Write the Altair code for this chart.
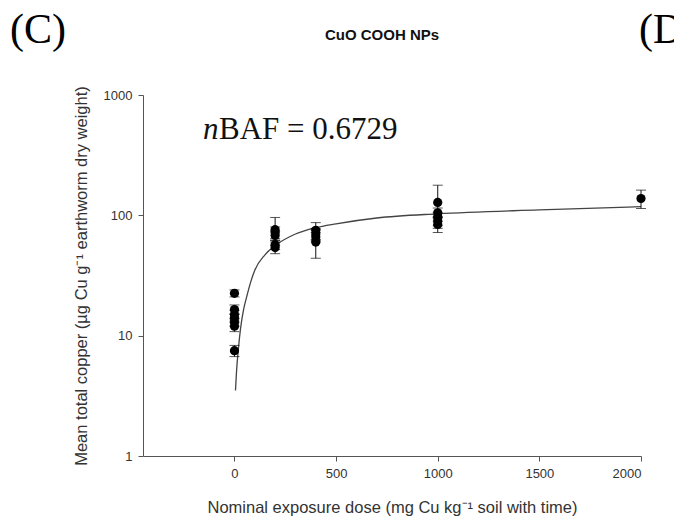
import altair as alt
import pandas as pd

# ---- data ----
doses = [0]*7 + [200]*5 + [400]*4 + [1000]*5 + [2000]
values = [22.5, 16.5, 15, 14, 13, 12, 7.5,
          76, 72, 68, 57, 54,
          75, 70, 66, 60,
          128, 105, 97, 90, 84,
          138]
errors = [1.5, 1.5, 1.2, 1.2, 1.0, 1.2, 0.8,
          20, 8, 6, 5, 6,
          12, 8, 6, 16,
          50, 10, 8, 8, 12,
          24]

curve_dose = [5, 10, 20, 30, 45, 60, 80, 100, 150, 200, 300, 400, 500, 700, 1000, 1500, 2000]
curve_val = [3.5, 5, 8, 11.5, 16.5, 21, 28, 35, 47, 56, 70, 79, 85, 95, 103, 111, 118]

x_ticks = [0, 500, 1000, 1500, 2000]
y_ticks = [1, 10, 100, 1000]

pts = pd.DataFrame({"dose": doses, "value": values,
                    "lo": [v - e for v, e in zip(values, errors)],
                    "hi": [v + e for v, e in zip(values, errors)]})
curve = pd.DataFrame({"dose": curve_dose, "value": curve_val})

FONT = "Liberation Sans"
SERIF = "Liberation Serif"

xscale = alt.Scale(domain=[-450, 2000], nice=False, zero=False)
yscale = alt.Scale(type="log", domain=[1, 1000], nice=False)

xenc = alt.X("dose:Q", scale=xscale,
             axis=alt.Axis(values=x_ticks, format="d", grid=False,
                           title="Nominal exposure dose (mg Cu kg⁻¹ soil with time)",
                           titlePadding=19, labelPadding=6))
yenc = alt.Y("value:Q", scale=yscale,
             axis=alt.Axis(values=y_ticks, format="d", grid=False,
                           title="Mean total copper (µg Cu g⁻¹ earthworm dry weight)",
                           titlePadding=14, labelPadding=6))

line = alt.Chart(curve).mark_line(color="#444", strokeWidth=1.3, interpolate="monotone").encode(
    x=xenc, y=yenc)

bars = alt.Chart(pts).mark_rule(color="#111", strokeWidth=1).encode(
    x="dose:Q", y="lo:Q", y2="hi:Q")
cap_hi = alt.Chart(pts).mark_tick(color="#111", orient="horizontal", size=10, thickness=1).encode(
    x="dose:Q", y="hi:Q")
cap_lo = alt.Chart(pts).mark_tick(color="#111", orient="horizontal", size=10, thickness=1).encode(
    x="dose:Q", y="lo:Q")
dots = alt.Chart(pts).mark_circle(color="#000", size=85, opacity=1).encode(
    x="dose:Q", y="value:Q")

lab = pd.DataFrame({"t": [0]})
def txt(text, x, y, **kw):
    return alt.Chart(lab).mark_text(text=text, **kw).encode(x=alt.value(x), y=alt.value(y))

panel_c = txt("(C)", -133, -52, font=SERIF, fontSize=42, align="left", baseline="alphabetic", color="#000")
panel_d = txt("(D)", 496, -52, font=SERIF, fontSize=42, align="left", baseline="alphabetic", color="#000")
title = txt("CuO COOH NPs", 239, -55, font=FONT, fontSize=15, fontWeight="bold", align="center",
            baseline="alphabetic", color="#111")
n_it = txt("n", 60, 44, font=SERIF, fontSize=31, fontStyle="italic", align="left",
           baseline="alphabetic", color="#111")
baf = txt("BAF = 0.6729", 76, 44, font=SERIF, fontSize=31, align="left",
          baseline="alphabetic", color="#111")

chart = alt.layer(line, bars, cap_hi, cap_lo, dots, panel_c, panel_d, title, n_it, baf).properties(
    width=498, height=361,
    background="white",
    autosize=alt.AutoSizeParams(type="none"),
    padding={"left": 143, "top": 95, "right": 33, "bottom": 64},
).configure_view(stroke=None).configure_axis(
    domainColor="#555", tickColor="#555", tickSize=5, labelFont=FONT, titleFont=FONT,
    labelFontSize=13, titleFontSize=16.5, labelColor="#333", titleColor="#333",
    titleFontWeight="normal", domainWidth=1, tickWidth=1
)

chart.save("out.html", embed_options={"renderer": "svg", "actions": False})
